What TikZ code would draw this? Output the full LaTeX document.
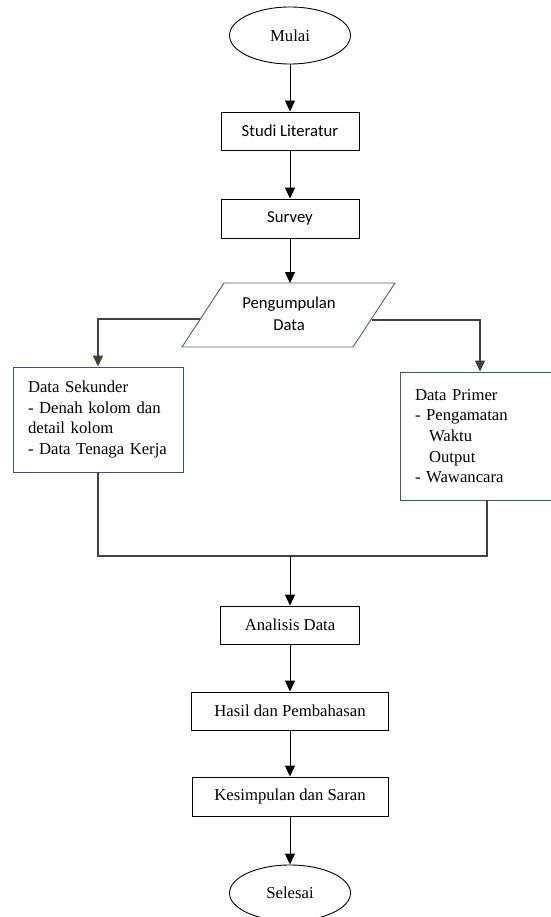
\documentclass[tikz,border=0pt]{standalone}
\usepackage{fontspec}
\setmainfont{Liberation Serif}
\newfontfamily\carlito{Carlito}
\usetikzlibrary{arrows.meta,shapes.geometric,calc}
\definecolor{slate}{HTML}{3B5578}
\definecolor{paraBlue}{HTML}{44618A}
\begin{document}
\begin{tikzpicture}[x=1pt,y=-1pt,
  serif/.style={font=\fontsize{16.7}{20.6}\selectfont},
  sans/.style={font=\carlito\fontsize{16.7}{22}\selectfont},
  term/.style={ellipse, draw, line width=0.9pt, minimum width=121pt, minimum height=57pt, inner sep=0pt, serif},
  procbox/.style={rectangle, draw, line width=0.9pt, inner sep=0pt},
  arr/.style={-{Triangle[width=10pt,length=11pt]}, line width=0.9pt},
  link/.style={line width=1.1pt, draw=black!75}]
\useasboundingbox (0,0) rectangle (550,917);
\fill[white] (0,0) rectangle (550,917);

\node[term] (mulai) at (290,35.5) {Mulai};
\node[procbox, sans, minimum width=138pt, minimum height=38pt] (studi) at (290,131) {Studi Literatur};
\node[procbox, sans, minimum width=138pt, minimum height=39pt] (survey) at (290,218.5) {Survey};

\coordinate (p1) at (224,283);
\coordinate (p2) at (395,283);
\coordinate (p3) at (353,347);
\coordinate (p4) at (182,347);
\draw[draw=paraBlue, line width=0.9pt] (p1) -- (p2) -- (p3) -- (p4) -- cycle;
\node[sans, align=center, inner sep=0pt] (pd) at (289,314) {Pengumpulan\\Data};
\coordinate (pl) at (200,319);
\coordinate (pr) at (372,320);

\node[procbox, draw=slate, serif, text width=140pt, inner xsep=15pt, minimum height=105pt, align=left] (sek) at (98,419.5)
  {Data Sekunder\\\makebox[136pt][s]{- Denah kolom dan}\\detail kolom\\- Data Tenaga Kerja};
\node[procbox, draw=slate, serif, text width=130pt, inner xsep=15pt, minimum height=128pt, align=left] (prim) at (480,436)
  {Data Primer\\- Pengamatan\\\hspace*{14pt}Waktu\\\hspace*{14pt}Output\\- Wawancara};

\node[procbox, serif, minimum width=139pt, minimum height=38pt] (analisis) at (290,625) {Analisis Data};
\node[procbox, serif, minimum width=197pt, minimum height=38pt] (hasil) at (290,711) {Hasil dan Pembahasan};
\node[procbox, serif, minimum width=196pt, minimum height=39pt] (kesim) at (290,796.5) {Kesimpulan dan Saran};
\node[term, minimum height=56pt] (selesai) at (290,893) {Selesai};

\draw[arr] (mulai) -- (studi);
\draw[arr] (studi) -- (survey);
\draw[arr] (survey) -- (survey.south |- p1);
\draw[arr, link] (pl) -| (sek.north);
\draw[arr, link] (pr) -| (prim.north);

\coordinate (join) at (290,556);
\draw[link] (sek.south) |- (join);
\draw[link] ([xshift=7pt]prim.south) |- (join);
\draw[arr] (join) -- (analisis.north);
\draw[arr] (analisis) -- (hasil);
\draw[arr] (hasil) -- (kesim);
\draw[arr] (kesim) -- (selesai);
\end{tikzpicture}
\end{document}
